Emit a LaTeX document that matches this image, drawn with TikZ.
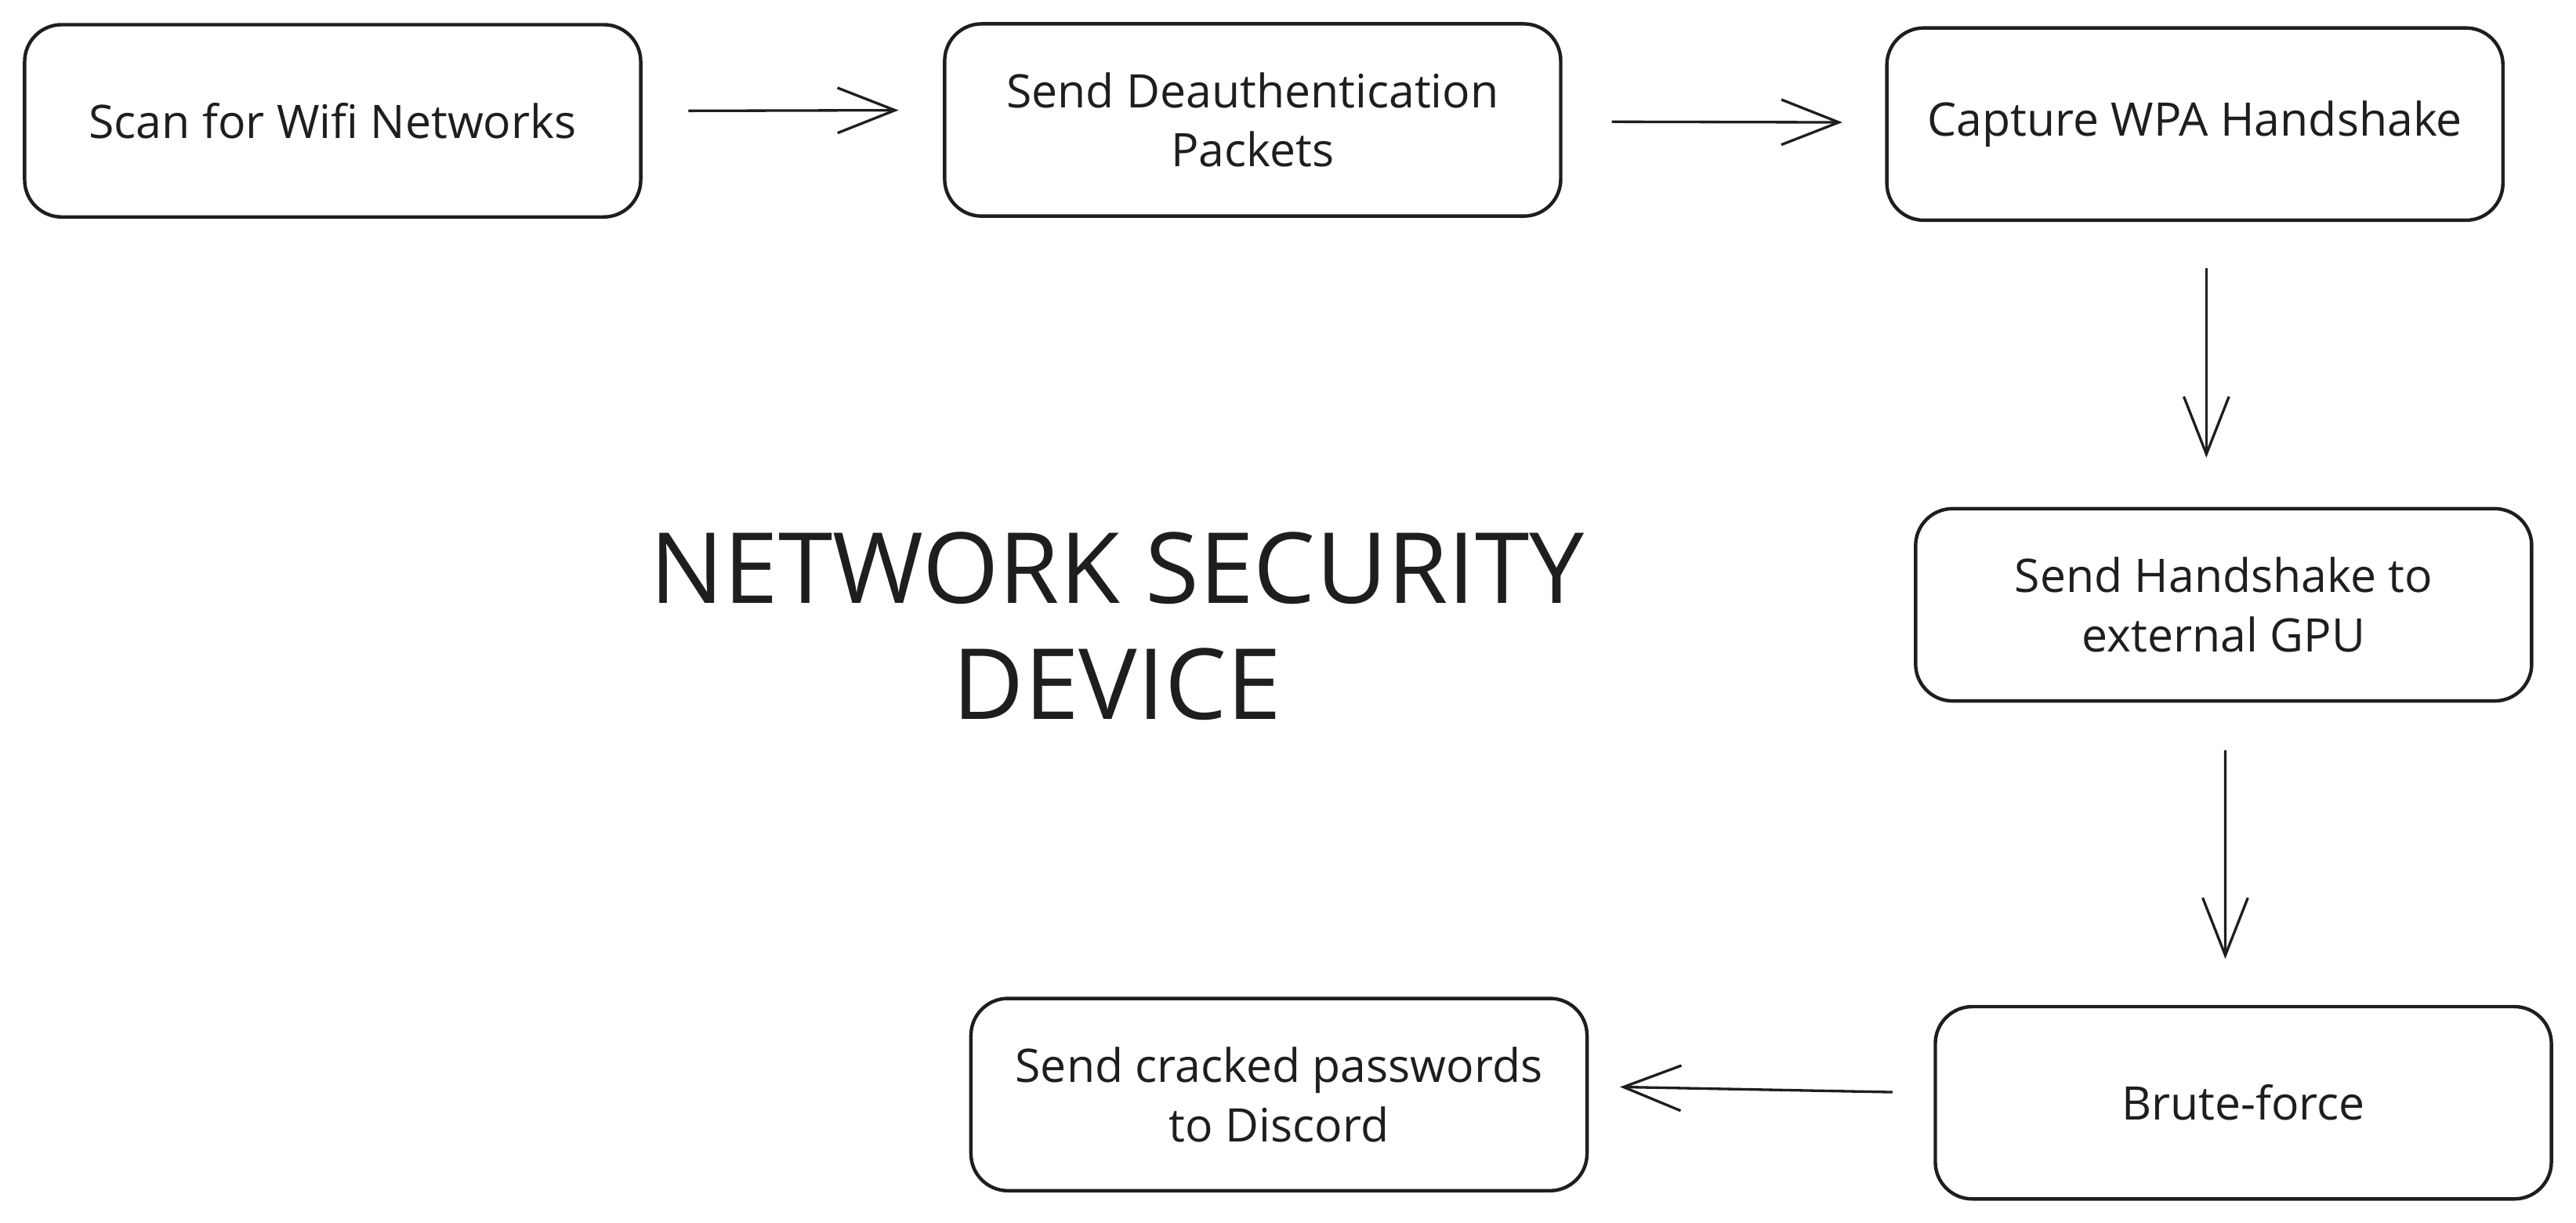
\documentclass[tikz,border=0pt]{standalone}
\usepackage{fontspec}
\setmainfont{Open Sans}
\usepackage{xcolor}
\usepackage{tikz}
\usetikzlibrary{arrows.meta}
\definecolor{inkcolor}{HTML}{1e1e1e}

\tikzset{
  stepbox/.style={draw=inkcolor, rectangle, rounded corners=0.45cm, line width=1.2pt, minimum width=7.5cm, minimum height=2.34cm, align=center, text=inkcolor, font=\fontsize{16pt}{20.5pt}\selectfont},
  flow/.style={draw=inkcolor, line width=0.9pt, -{Straight Barb[length=0.7cm, width=0.55cm, line width=0.9pt]}},
}

\begin{document}
\begin{tikzpicture}%
\useasboundingbox (0,0) rectangle (31.36,-14.88);%
\node[stepbox] (scan) at (4.05, -1.47) {Scan for Wifi Networks};%
\node[stepbox] (deauth) at (15.25, -1.46) {Send Deauthentication\\Packets};%
\node[stepbox] (capture) at (26.72, -1.51) {Capture WPA Handshake};%
\node[stepbox] (gpu) at (27.07, -7.36) {Send Handshake to\\external GPU};%
\node[stepbox] (brute) at (27.31, -13.42) {Brute-force};%
\node[stepbox] (discord) at (15.57, -13.32) {Send cracked passwords\\to Discord};%
\node[align=center, text=inkcolor, font=\fontsize{34pt}{40pt}\selectfont] (title) at (13.6, -7.62) {NETWORK SECURITY\\DEVICE};%
\draw[flow, shorten <=0.56cm, shorten >=0.54cm] ([yshift=0.12cm]scan.east) -- ([yshift=0.12cm]deauth.west);%
\draw[flow, shorten <=0.6cm, shorten >=0.52cm] ([yshift=-0.02cm]deauth.east) -- ([yshift=0.02cm]capture.west);%
\draw[flow, shorten <=0.56cm, shorten >=0.6cm] ([xshift=0.14cm]capture.south) -- ([xshift=-0.21cm]gpu.north);%
\draw[flow, shorten <=0.58cm, shorten >=0.56cm] ([xshift=0.02cm]gpu.south) -- ([xshift=-0.22cm]brute.north);%
\draw[flow, shorten <=0.5cm, shorten >=0.38cm] ([yshift=0.12cm]brute.west) -- ([yshift=0.1cm]discord.east);%
\end{tikzpicture}
\end{document}
